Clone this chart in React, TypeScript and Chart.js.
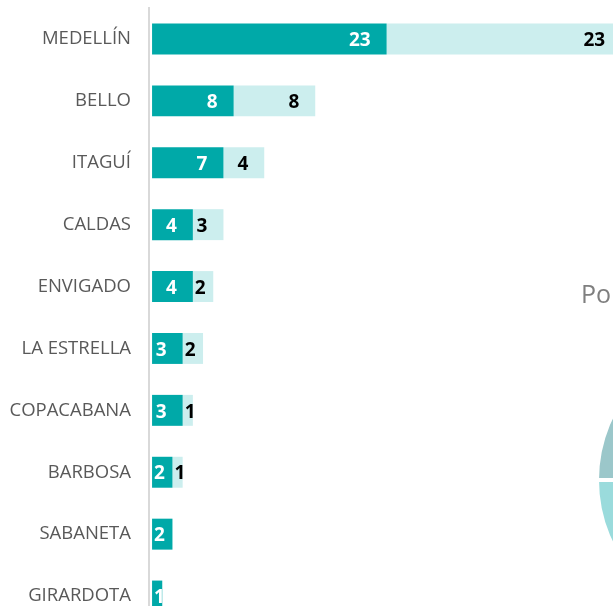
import React, { useEffect, useRef } from 'react';
import { Chart, registerables } from 'chart.js';

Chart.register(...registerables);

const categories = ['MEDELLÍN', 'BELLO', 'ITAGUÍ', 'CALDAS', 'ENVIGADO', 'LA ESTRELLA', 'COPACABANA', 'BARBOSA', 'SABANETA', 'GIRARDOTA'];
const primaryValues = [23, 8, 7, 4, 4, 3, 3, 2, 2, 1];
const secondaryValues = [23, 8, 4, 3, 2, 2, 1, 1, 0, 0];
const pieValues = [75, 25];
const pieColors = ['#9ADBDC', '#9BC7CA'];
const sideTitle = 'Po';

const DARK = '#00A9A8';
const LIGHT = '#CCEEEE';

export default function App() {
  const barRef = useRef<HTMLCanvasElement>(null);
  const pieRef = useRef<HTMLCanvasElement>(null);

  useEffect(() => {
    const labelPlugin = {
      id: 'segLabels',
      afterDatasetsDraw(chart: any) {
        const ctx = chart.ctx;
        ctx.save();
        ctx.font = 'bold 19px "Open Sans"';
        ctx.textAlign = 'left';
        ctx.textBaseline = 'alphabetic';
        chart.data.datasets.forEach((ds: any, di: number) => {
          const meta = chart.getDatasetMeta(di);
          ctx.fillStyle = di === 0 ? '#FFFFFF' : '#000000';
          meta.data.forEach((el: any, i: number) => {
            const v = ds.data[i];
            if (!v) return;
            const { x, base, y } = el.getProps(['x', 'base', 'y'], true);
            const t = String(v);
            const w = ctx.measureText(t).width;
            let left = x - 16 - w;
            if (left < base + 2) left = base + 2;
            ctx.fillText(t, left, y + 7.2);
          });
        });
        ctx.restore();
      },
    };

    const bar = new Chart(barRef.current as HTMLCanvasElement, {
      type: 'bar',
      data: {
        labels: categories,
        datasets: [
          { data: primaryValues, backgroundColor: DARK, borderWidth: 0, categoryPercentage: 0.5, barPercentage: 1 },
          { data: secondaryValues, backgroundColor: LIGHT, borderWidth: 0, categoryPercentage: 0.5, barPercentage: 1 },
        ],
      },
      options: {
        indexAxis: 'y',
        responsive: false,
        animation: false,
        events: [],
        layout: { padding: { top: 8, left: 0, right: 0, bottom: 0 } },
        plugins: { legend: { display: false }, tooltip: { enabled: false } },
        scales: {
          x: { stacked: true, min: -0.3, max: 50, display: false },
          y: {
            stacked: true,
            grid: { display: false, drawTicks: false },
            border: { display: true, color: '#D9D9D9', width: 2 },
            ticks: { color: '#595959', font: { family: '"Open Sans"', size: 18.5 }, padding: 18 },
            afterFit(axis: any) {
              axis.width = 149;
              axis.paddingTop = 0;
              axis.paddingBottom = 0;
            },
          },
        },
      },
      plugins: [labelPlugin],
    } as any);

    const pie = new Chart(pieRef.current as HTMLCanvasElement, {
      type: 'pie',
      data: {
        labels: ['A', 'B'],
        datasets: [{ data: pieValues, backgroundColor: pieColors, borderColor: '#FFFFFF', borderWidth: 4, hoverOffset: 0, offset: 0 }],
      },
      options: {
        responsive: false,
        animation: false,
        events: [],
        layout: { padding: 0 },
        plugins: { legend: { display: false }, tooltip: { enabled: false } },
      },
    } as any);

    let alive = true;
    if ((document as any).fonts) {
      (document as any).fonts.load('bold 19px "Open Sans"').then(() => (document as any).fonts.load('18px "Open Sans"')).then(() => {
        if (alive) bar.update();
      }).catch(() => {});
    }

    return () => {
      alive = false;
      bar.destroy();
      pie.destroy();
    };
  }, []);

  return (
    <div style={{ position: 'fixed', left: 0, top: 0, width: 613, height: 606, overflow: 'hidden', background: '#FFFFFF' }}>
      <canvas ref={barRef} width={662} height={627} style={{ position: 'absolute', left: 0, top: 0, width: 662, height: 627 }} />
      <canvas ref={pieRef} width={296} height={296} style={{ position: 'absolute', left: 595, top: 332, width: 296, height: 296 }} />
      <div style={{ position: 'absolute', left: 581, top: 281, fontFamily: '"Open Sans"', fontSize: 25, lineHeight: '25px', color: '#7F7F7F', whiteSpace: 'nowrap' }}>{sideTitle}</div>
    </div>
  );
}
